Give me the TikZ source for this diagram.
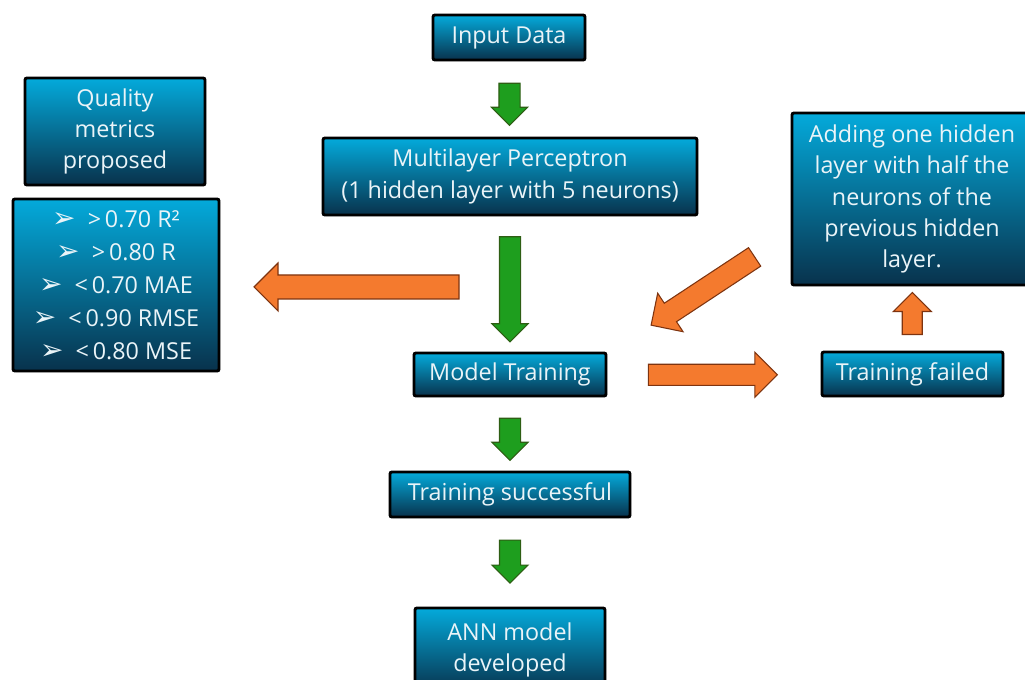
\documentclass[tikz,border=0pt]{standalone}
\usepackage{fontspec}
\setmainfont{Open Sans}
\newfontfamily\dv{DejaVu Sans}
\usetikzlibrary{shapes.arrows,calc,shadows}
\definecolor{boxtop}{HTML}{04AADB}
\definecolor{boxbot}{HTML}{08324C}
\definecolor{txt}{HTML}{EAF4F8}
\definecolor{gfill}{HTML}{1E9E1E}
\definecolor{gdraw}{HTML}{2E5E14}
\definecolor{ofill}{HTML}{F47A2E}
\definecolor{odraw}{HTML}{7E3410}
\newcommand\bul{{\dv\fontsize{21}{21}\selectfont ➢}\ \ }
\tikzset{
  box/.style={draw=black, line width=2.2pt, rounded corners=1.5pt,
    top color=boxtop, bottom color=boxbot, text=txt, align=center,
    font=\fontsize{17.5}{23.5}\selectfont, inner sep=0pt,
    drop shadow={shadow xshift=1pt, shadow yshift=-1pt, opacity=0.25}},
  garrow/.style={single arrow, draw=gdraw, fill=gfill, line width=0.8pt,
    inner xsep=0pt, inner ysep=7.5pt, minimum width=0pt,
    single arrow head extend=5.6pt, rotate=-90},
  oarrow/.style={single arrow, draw=odraw, fill=ofill, line width=0.8pt,
    inner xsep=0pt, minimum width=0pt},
}
\begin{document}
\begin{tikzpicture}[x=0.75pt,y=-0.75pt]
\useasboundingbox (0,0) rectangle (1025,680);
% boxes
\node[box, minimum width=114pt, minimum height=33.75pt] (in) at (509,37.5) {Input Data};
\node[box, minimum width=135pt, minimum height=80.25pt] (qm) at (115,131.5) {Quality\\metrics\\proposed};
\node[box, minimum width=154.5pt, minimum height=129pt,
      font=\fontsize{17.5}{24.8}\selectfont] (met) at (116,285)
  {\bul{>}\,0.70 R²\\\bul{>}\,0.80 R\\\bul{<}\,0.70 MAE\\\bul{<}\,0.90 RMSE\\\bul{<}\,0.80 MSE};
\node[box, minimum width=280.5pt, minimum height=57.75pt] (mlp) at (510,176.5) {Multilayer Perceptron\\(1 hidden layer with 5 neurons)};
\node[box, minimum width=180pt, minimum height=129pt] (add) at (912,199) {Adding one hidden\\layer with half the\\neurons of the\\previous hidden\\layer.};
\node[box, minimum width=144pt, minimum height=32.25pt] (mt) at (510,374.5) {Model Training};
\node[box, minimum width=135.75pt, minimum height=33pt] (tf) at (912.5,374) {Training failed};
\node[box, minimum width=180pt, minimum height=33.75pt] (ts) at (510,494.5) {Training successful};
\node[box, minimum width=142.5pt, minimum height=63pt] (ann) at (510,650) {ANN model\\developed};
% green arrows
\node[garrow, minimum height=31.5pt] (g1) at ($(in.south)!0.5!(mlp.north)$) {};
\node[garrow, minimum height=78.75pt] (g2) at ($(mlp.south)!0.5!(mt.north)$) {};
\node[garrow, minimum height=31.5pt] (g3) at ($(mt.south)!0.5!(ts.north)$) {};
\node[garrow, minimum height=32.25pt] (g4) at ($(ts.south)!0.43!(ann.north)$) {};
% orange arrows
\coordinate (ls) at (465,287);
\coordinate (le) at (260,287);
\node[oarrow, inner ysep=8.6pt, single arrow head extend=9pt, minimum height=153.75pt, rotate=180] (o1) at ($(ls)!0.5!(le)$) {};
\node[oarrow, inner ysep=7.5pt, single arrow head extend=9pt, minimum height=96.75pt] (o2) at ($(mt.east)!0.47!(tf.west)+(0,0.5)$) {};
\node[oarrow, inner ysep=7.1pt, single arrow head extend=6.75pt, minimum height=31.5pt, rotate=90] (o3) at ($(tf.north)!0.5!(add.south)$) {};
\coordinate (ds) at (760,254);
\coordinate (de) at (655,322);
\node[oarrow, inner ysep=7.9pt, single arrow head extend=9pt, minimum height=93pt, rotate=213.4] (o4) at ($(ds)!0.5!(de)$) {};
\end{tikzpicture}
\end{document}
